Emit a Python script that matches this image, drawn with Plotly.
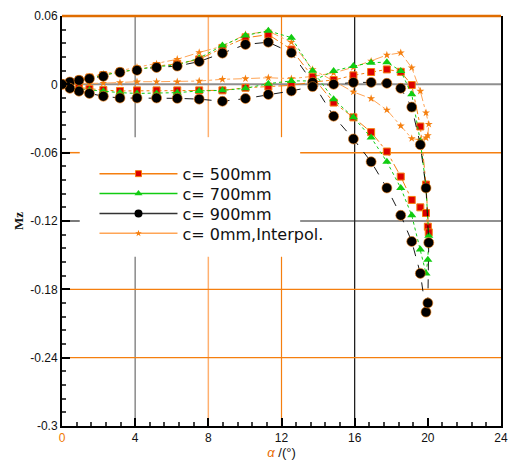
import plotly.graph_objects as go

# ---------------- data ----------------
alpha_up = [0, 0.43, 0.93, 1.5, 2.26, 3.17, 4.1, 5.17, 6.3, 7.5, 8.77, 10.03,
            11.28, 12.54, 13.7, 14.85, 15.93, 16.9, 17.76, 18.52, 19.12, 19.59, 19.9, 20.0]
alpha_down = [20.05, 19.9, 19.59, 19.12, 18.52, 17.76, 16.9, 15.93, 14.85, 13.7, 12.54, 11.28,
              10.03, 8.77, 7.5, 6.3, 5.17, 4.1, 3.17, 2.26, 1.5, 0.93, 0.43, 0]

mz500_up = [0, 0.002, 0.004, 0.006, 0.008, 0.011, 0.013, 0.016, 0.018, 0.0219, 0.032, 0.0408,
            0.0437, 0.0306, 0.0067, -0.016, -0.029, -0.042, -0.059, -0.081, -0.1015, -0.108, -0.113, -0.125]
mz500_down = [-0.130, -0.088, -0.037, -0.0006, 0.011, 0.0131, 0.0108, 0.0079, 0.0038, 0.002, -0.0009, -0.002,
              -0.003, -0.0053, -0.0053, -0.0053, -0.0053, -0.0053, -0.0058, -0.005, -0.004, -0.003, -0.002, 0]

mz700_up = [0, 0.002, 0.0035, 0.0055, 0.0075, 0.011, 0.013, 0.0155, 0.017, 0.023, 0.034, 0.0429,
            0.047, 0.041, 0.012, -0.0131, -0.029, -0.0467, -0.068, -0.091, -0.115, -0.145, -0.166, -0.154]
mz700_down = [-0.133, -0.09, -0.05, -0.0088, 0.0117, 0.0195, 0.019, 0.016, 0.0117, 0.003, 0.003, 0.0006,
              -0.0035, -0.0053, -0.0058, -0.0073, -0.008, -0.008, -0.0073, -0.006, -0.005, -0.004, -0.002, 0]

mz900_up = [0, 0.002, 0.0035, 0.005, 0.007, 0.0105, 0.0123, 0.0148, 0.016, 0.020, 0.0274, 0.035,
            0.037, 0.0277, 0.0017, -0.028, -0.048, -0.068, -0.091, -0.115, -0.138, -0.166, -0.200, -0.192]
mz900_down = [-0.139, -0.091, -0.053, -0.020, -0.0035, 0.0009, 0.0017, 0.0017, 0.0, -0.002, -0.0058, -0.0089,
              -0.0125, -0.0149, -0.013, -0.0123, -0.012, -0.012, -0.012, -0.0105, -0.008, -0.006, -0.0035, 0]

mz0_up = [0, 0.003, 0.005, 0.0065, 0.009, 0.012, 0.015, 0.018, 0.022, 0.028, 0.0335, 0.0437,
          0.0467, 0.037, 0.013, 0.003, -0.0067, -0.0125, -0.0225, -0.0365, -0.0475, -0.049, -0.047, -0.045]
mz0_down = [-0.035, -0.025, -0.006, 0.0146, 0.0277, 0.0257, 0.0204, 0.015, 0.010, 0.007, 0.005, 0.0058,
            0.005, 0.0044, 0.0029, 0.0023, 0.0023, 0.0023, 0.0015, 0.001, 0.0008, 0.0005, 0.0003, 0]

series_names = ["c= 500mm", "c= 700mm", "c= 900mm", "c= 0mm,Interpol."]

x_tickvals = [0, 4, 8, 12, 16, 20, 24]
x_ticktext = ['<span style="color:#f07800">0</span>', "4", "8", "12", "16", "20", "24"]
y_tickvals = [0.06, 0, -0.06, -0.12, -0.18, -0.24, -0.3]
y_ticktext = ["0.06", "0", "-0.06", "-0.12", "-0.18", "-0.24", "-0.3"]

# ---------------- styles ----------------
ORANGE = "#f57f0f"
LORANGE = "#ffa556"
GREEN = "#11cc11"
RED = "#dd0000"

styles = [
    dict(line=dict(color=ORANGE, width=1, dash="dashdot"),
         marker=dict(symbol="square", size=7, color=RED, line=dict(color=ORANGE, width=1))),
    dict(line=dict(color=GREEN, width=1, dash="dot"),
         marker=dict(symbol="triangle-up", size=8, color=GREEN, line=dict(width=0))),
    dict(line=dict(color="black", width=0.9, dash="dash"),
         marker=dict(symbol="circle", size=10, color="black", line=dict(color=ORANGE, width=0.6))),
    dict(line=dict(color=LORANGE, width=1, dash="dashdot"),
         marker=dict(symbol="star", size=6, color=ORANGE, line=dict(width=0))),
]
legend_styles = [
    dict(line=dict(color=ORANGE, width=1.5),
         marker=dict(symbol="square", size=6, color=RED, line=dict(color=ORANGE, width=1))),
    dict(line=dict(color=GREEN, width=1.5),
         marker=dict(symbol="triangle-up", size=7, color=GREEN, line=dict(width=0))),
    dict(line=dict(color="#333333", width=1.5),
         marker=dict(symbol="circle", size=8, color="black", line=dict(width=0))),
    dict(line=dict(color=LORANGE, width=1.5),
         marker=dict(symbol="star", size=5, color=ORANGE, line=dict(width=0))),
]

all_up = [mz500_up, mz700_up, mz900_up, mz0_up]
all_down = [mz500_down, mz700_down, mz900_down, mz0_down]
legend_ids = ["legend", "legend2", "legend3", "legend4"]
legend_rows_px = [174.5, 194.5, 214.5, 234.5]

fig = go.Figure()
draw_order = [3, 0, 1, 2]
for i in draw_order:
    fig.add_trace(go.Scatter(
        x=alpha_up + alpha_down, y=all_up[i] + all_down[i],
        mode="lines+markers", name=series_names[i], showlegend=False,
        line=styles[i]["line"], marker=styles[i]["marker"]))
for i in range(4):
    fig.add_trace(go.Scatter(
        x=[None], y=[None], mode="lines+markers", name=series_names[i],
        legend=legend_ids[i], showlegend=True,
        line=legend_styles[i]["line"], marker=legend_styles[i]["marker"]))

# gridlines of mixed colours (overlay look), interrupted where the legend box sits
LEG_X0, LEG_X1, LEG_Y0, LEG_Y1 = 0.97, 13.02, -0.1514, -0.0464
shapes = []
vgrid = [(4, "#8a8a8a", 1.5), (8, "#ffb070", 1.5), (12, ORANGE, 1.2), (16, "#111111", 1.2)]
for xv, col, w in vgrid:
    segs = [(-0.3, 0.06)]
    if LEG_X0 < xv < LEG_X1:
        segs = [(-0.3, LEG_Y0), (LEG_Y1, 0.06)]
    for a, b in segs:
        shapes.append(dict(type="line", xref="x", yref="y", x0=xv, x1=xv, y0=a, y1=b,
                           line=dict(color=col, width=w), layer="below"))
hgrid = [(0, "#8f8f8f", 2), (-0.06, ORANGE, 1.5), (-0.12, "#222222", 1.2),
         (-0.18, ORANGE, 1.2), (-0.24, ORANGE, 1.2)]
for yv, col, w in hgrid:
    segs = [(0, 24)]
    if LEG_Y0 < yv < LEG_Y1:
        segs = [(0, LEG_X0), (LEG_X1, 24)]
    for a, b in segs:
        shapes.append(dict(type="line", xref="x", yref="y", x0=a, x1=b, y0=yv, y1=yv,
                           line=dict(color=col, width=w), layer="below"))
# top border (orange)
shapes.append(dict(type="line", xref="paper", yref="paper", x0=0, x1=1, y0=1, y1=1,
                   line=dict(color="#e06d00", width=2.5), layer="above"))

legend_common = dict(xanchor="left", yanchor="middle", bgcolor="rgba(0,0,0,0)",
                     font=dict(family="DejaVu Sans, sans-serif", size=16, color="#111111"),
                     itemwidth=78, borderwidth=0)
layout_legends = {}
for lid, ypx in zip(legend_ids, legend_rows_px):
    layout_legends[lid] = dict(legend_common, x=(95 - 62) / 446, y=(428 - ypx) / 412)

fig.update_layout(
    width=513, height=462,
    margin=dict(l=62, r=5, t=16, b=34),
    paper_bgcolor="white", plot_bgcolor="white",
    font=dict(family="Liberation Sans, Arial, sans-serif", size=12, color="#111111"),
    shapes=shapes,
    xaxis=dict(range=[0, 24], showgrid=False, zeroline=False,
               tickvals=x_tickvals, ticktext=x_ticktext,
               ticks="inside", ticklen=8, tickwidth=1.5, tickcolor="black",
               showline=True, linecolor="black", linewidth=2, mirror=False,
               minor=dict(ticks="inside", dtick=0.8, tick0=0, ticklen=4, tickcolor="#444444"),
               title=dict(text='<i><span style="color:#e86a00">α</span></i> /(°)',
                          font=dict(size=13, color="#111111"), standoff=2)),
    yaxis=dict(range=[-0.3, 0.06], showgrid=False, zeroline=False,
               tickvals=y_tickvals, ticktext=y_ticktext,
               ticks="inside", ticklen=8, tickwidth=1.5, tickcolor="black",
               showline=True, linecolor="black", linewidth=2, mirror=True,
               minor=dict(ticks="inside", dtick=0.012, tick0=0, ticklen=4, tickcolor="#444444"),
               title=dict(text="<b>Mz</b>", font=dict(family="Liberation Serif, serif", size=13, color="#111111"),
                          standoff=4)),
    **layout_legends,
)

fig.write_html("out.html")
